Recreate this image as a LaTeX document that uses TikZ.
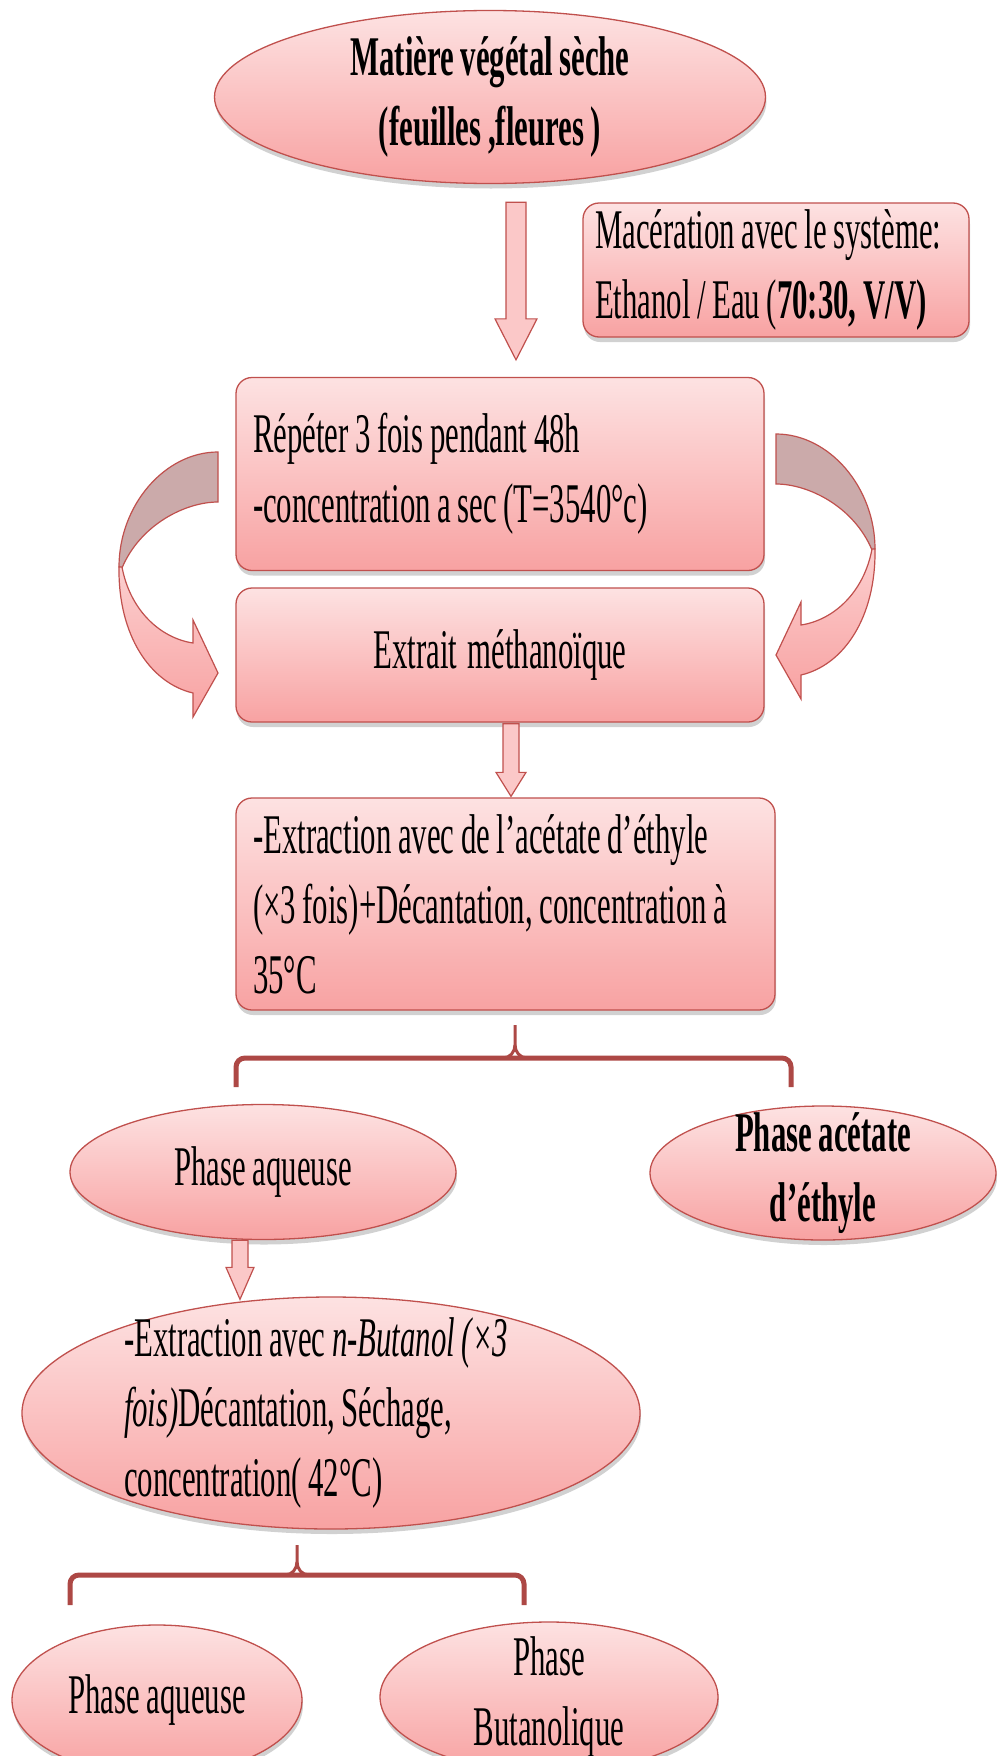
\documentclass[tikz,border=0pt]{standalone}
\usepackage{fontspec}
\setmainfont{Liberation Serif}[FakeStretch=0.55, WordSpace=0.85]
\usetikzlibrary{positioning,calc,shapes.geometric,shadows}
\definecolor{softpink}{RGB}{253,226,226}
\definecolor{deeppink}{RGB}{248,162,162}
\definecolor{edgered}{RGB}{192,80,77}
\definecolor{dustpink}{RGB}{203,170,170}

\tikzset{
  base/.style={draw=edgered, line width=1.3pt, top color=softpink, bottom color=deeppink,
    drop shadow={shadow xshift=1pt, shadow yshift=-5pt, opacity=0.18, fill=black}},
  txt/.style={font=\fontsize{56}{70}\selectfont},
  boldtxt/.style={font=\fontsize{56}{70}\selectfont\bfseries},
  plainspace/.style={execute at begin node={\spaceskip=0pt\xspaceskip=0pt\relax}},
  stepbox/.style={base, txt, rectangle, rounded corners=16pt, inner xsep=17pt, inner ysep=0pt,
    align=flush left, plainspace},
  phase/.style={base, txt, ellipse, inner sep=-40pt, align=center},
  arrowbody/.style={draw=edgered, line width=1.2pt, fill=softpink!60!deeppink},
  loopback/.style={draw=edgered, line width=1.2pt, fill=dustpink},
  loopfront/.style={draw=edgered, line width=1.2pt, top color=softpink!70!deeppink, bottom color=deeppink},
  bracket/.style={draw=edgered!90!black, line width=5pt, rounded corners=9pt},
  stem/.style={draw=edgered!90!black, line width=3pt}
}

% straight block arrow: start, end, half shaft, half head, head length
\newcommand{\blockarrow}[5]{%
  \path[arrowbody] let \p1=(#1), \p2=(#2) in
    (\x1-#3pt,\y1) -- (\x1-#3pt,\y2+#5pt) -- (\x1-#4pt,\y2+#5pt) -- (\x1,\y2)
    -- (\x1+#4pt,\y2+#5pt) -- (\x1+#3pt,\y2+#5pt) -- (\x1+#3pt,\y1) -- cycle;}

% curved return arrow (left one, mirrored for the right)
\newcommand{\loopArrow}{%
  \path[loopback] (218,452) .. controls (165,452) and (119,505) .. (119,567)
    -- (122,568) .. controls (140,525) and (185,502) .. (218,502) -- cycle;
  \path[loopfront] (122,567) .. controls (130,610) and (160,638) .. (193,643)
    -- (193,620) -- (218,673) -- (193,717) -- (193,693)
    .. controls (150,683) and (118,635) .. (119,567) -- cycle;}

\begin{document}
\begin{tikzpicture}[x=1pt, y=-1pt]
\path[fill=white] (0,0) rectangle (996,1756);
\useasboundingbox (0,0) rectangle (996,1756);

% Starting material
\node[phase, boldtxt, minimum width=551pt, minimum height=173pt] (mat) at (490,97)
  {Matière végétal sèche\\(feuilles ,fleures )};
\node[stepbox, inner xsep=12pt, text width=362pt, minimum width=386pt, minimum height=134pt] (mac) at (776,270)
  {Macération avec le système:\\Ethanol / Eau (\textbf{70:30, V/V)}};

% Maceration
\node[stepbox, text width=494pt, minimum width=528pt, minimum height=193pt] (rep) at (500,474)
  {Répéter 3 fois pendant 48h\\-concentration a sec (T=3540°c)};
\node[stepbox, align=center, text width=494pt, minimum width=528pt, minimum height=134pt] (ext) at (500,655)
  {Extrait méthanoïque};

% Ethyl acetate extraction
\node[stepbox, text width=505pt, minimum width=539pt, minimum height=212pt] (acet) at (505.5,904)
  {-Extraction avec de l’acétate d’éthyle\\(×3 fois)+Décantation, concentration à\\35°C};
\node[phase, minimum width=386pt, minimum height=135pt] (aq1) at (263,1172) {Phase aqueuse};
\node[phase, boldtxt, minimum width=346pt, minimum height=134pt] (ea) at (823,1173) {Phase acétate\\d’éthyle};

% Butanol extraction
\node[phase, align=flush left, plainspace, text width=414pt, minimum width=618pt, minimum height=232pt] (but) at (331,1413)
  {-Extraction avec \textit{n-Butanol (×3}\\\textit{fois)}Décantation, Séchage,\\concentration( 42°C)};
\node[phase, minimum width=290pt, minimum height=150pt] (aq2) at (157,1700) {Phase aqueuse};
\node[phase, minimum width=338pt, minimum height=150pt] (bph) at (549,1697) {Phase\\Butanolique};

% Straight arrows
\coordinate (a1s) at ($(mat.south)+(26,18)$);
\coordinate (a1e) at ($(rep.north)+(16,-17)$);
\blockarrow{a1s}{a1e}{10}{21}{41}
\coordinate (a2s) at ($(ext.south)+(11,1)$);
\coordinate (a2e) at ($(acet.north)+(5.5,-1)$);
\blockarrow{a2s}{a2e}{8}{15}{24}
\coordinate (a3s) at ($(aq1.south)+(-23,0)$);
\coordinate (a3e) at ($(but.north)+(-91,3)$);
\blockarrow{a3s}{a3e}{8}{14}{32}

% Return arrows
\loopArrow
\begin{scope}[shift={(994,-18)}, xscale=-1]
\loopArrow
\end{scope}

% First split
\draw[bracket] (236,1087) -- (236,1058) -- (791,1058) -- (791,1087);
\draw[stem] (503,1058) to[out=0,in=-90] (515,1045) -- (515,1025);
\draw[stem] (527,1058) to[out=180,in=-90] (515,1045);

% Second split
\draw[bracket] (70,1605) -- (70,1575) -- (524,1575) -- (524,1605);
\draw[stem] (285,1575) to[out=0,in=-90] (297,1562) -- (297,1545);
\draw[stem] (309,1575) to[out=180,in=-90] (297,1562);
\end{tikzpicture}
\end{document}
